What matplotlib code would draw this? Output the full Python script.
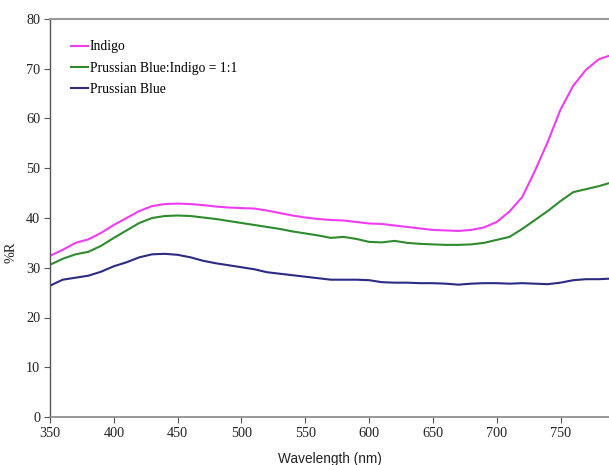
import matplotlib
matplotlib.use("Agg")
import matplotlib.pyplot as plt

wavelength = [350, 360, 370, 380, 390, 400, 410, 420, 430, 440, 450, 460, 470, 480, 490,
              500, 510, 520, 530, 540, 550, 560, 570, 580, 590, 600, 610, 620, 630, 640,
              650, 660, 670, 680, 690, 700, 710, 720, 730, 740, 750, 760, 770, 780, 788]

indigo = [32.4, 33.6, 35.0, 35.7, 37.0, 38.6, 40.0, 41.4, 42.4, 42.8, 42.9, 42.8, 42.6, 42.3, 42.1,
          42.0, 41.9, 41.5, 41.0, 40.5, 40.1, 39.8, 39.6, 39.5, 39.2, 38.9, 38.8, 38.5, 38.2, 37.9,
          37.6, 37.5, 37.4, 37.6, 38.1, 39.2, 41.3, 44.2, 49.5, 55.3, 61.8, 66.6, 69.8, 71.9, 72.6]

mix = [30.6, 31.8, 32.7, 33.2, 34.4, 36.0, 37.5, 39.0, 40.0, 40.4, 40.5, 40.4, 40.1, 39.8, 39.4,
       39.0, 38.6, 38.2, 37.8, 37.3, 36.9, 36.5, 36.0, 36.2, 35.8, 35.2, 35.1, 35.4, 35.0, 34.8,
       34.7, 34.6, 34.6, 34.7, 35.0, 35.6, 36.2, 37.8, 39.6, 41.4, 43.4, 45.2, 45.8, 46.4, 47.0]

prussian = [26.4, 27.6, 28.0, 28.4, 29.2, 30.3, 31.1, 32.1, 32.7, 32.8, 32.6, 32.1, 31.4, 30.9, 30.5,
            30.1, 29.7, 29.1, 28.8, 28.5, 28.2, 27.9, 27.6, 27.6, 27.6, 27.5, 27.1, 27.0, 27.0, 26.9,
            26.9, 26.8, 26.6, 26.8, 26.9, 26.9, 26.8, 26.9, 26.8, 26.7, 27.0, 27.5, 27.7, 27.7, 27.8]

labels = ["Indigo", "Prussian Blue:Indigo = 1:1", "Prussian Blue"]
xticks = [350, 400, 450, 500, 550, 600, 650, 700, 750]
yticks = [0, 10, 20, 30, 40, 50, 60, 70, 80]

serif = "Liberation Serif"
sans = "Liberation Sans"

fig = plt.figure(figsize=(6.09, 4.65), dpi=100)
ax = fig.add_axes([50 / 609, 48 / 465, 1 - 50 / 609, (417 - 19) / 465])

ax.plot(wavelength, indigo, color="#f03cf0", lw=1.5, label=labels[0])
ax.plot(wavelength, mix, color="#2e8b2e", lw=1.5, label=labels[1])
ax.plot(wavelength, prussian, color="#2b2b84", lw=1.5, label=labels[2])

ax.set_xlim(350, 788)
ax.set_ylim(0, 80)
ax.set_xticks(xticks)
ax.set_yticks(yticks)
ax.set_xticklabels([str(t) for t in xticks], fontfamily=serif, fontsize=10.3)
ax.set_yticklabels([str(t) for t in yticks], fontfamily=serif, fontsize=10.3)
ax.tick_params(axis="both", direction="out", length=4, width=0.8, colors="#555555",
               labelcolor="#222222", pad=3)

ax.spines["right"].set_visible(False)
ax.spines["top"].set_color("#999999")
ax.spines["top"].set_linewidth(1.5)
ax.spines["bottom"].set_color("#888888")
ax.spines["bottom"].set_linewidth(1.2)
ax.spines["left"].set_color("#555555")
ax.spines["left"].set_linewidth(1.0)

ax.set_xlabel("Wavelength (nm)", fontfamily=sans, fontsize=9.8, color="#222222", labelpad=9)
ax.set_ylabel("%R", fontfamily=serif, fontsize=10.3, color="#222222")
ax.yaxis.set_label_coords(-0.059, 0.415)

leg = ax.legend(loc="upper left", bbox_to_anchor=(0.02, 0.97), frameon=False,
                prop={"family": serif, "size": 9.8}, handlelength=1.3, handletextpad=0.1,
                labelspacing=0.6, borderaxespad=0.3)

fig.savefig("out.png", dpi=100)
